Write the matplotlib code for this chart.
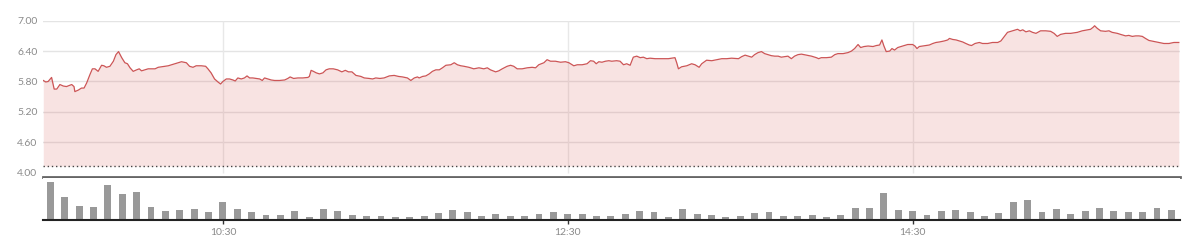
import matplotlib.pyplot as plt
import numpy as np

plt.rcParams["font.family"] = ["Lato", "DejaVu Sans"]

# minutes since 09:30 and last price
price_t = [
    -2.5, -1.6, -0.8, 0.4, 1.3, 2.2, 3.3, 4.5, 5.6, 7.4, 8.2, 8.5, 9.7, 10.8, 11.7, 12.6, 13.7, 14.6, 15.5, 16.6,
    17.8, 18.6, 19.5, 20.7, 21.9, 22.8, 23.7, 24.8, 25.9, 26.8, 27.7, 28.8, 30.0, 30.9, 31.7, 32.9, 34.0, 35.2,
    36.4, 37.5, 38.7, 39.8, 41.0, 42.1, 43.3, 44.5, 45.6,
    47.3, 48.4, 49.6, 50.7, 52.5, 54.0, 54.8, 55.9, 57.1, 58.3, 59.2, 60.0, 61.2, 62.3, 63.5, 64.3, 65.2, 66.4,
    67.5, 68.4, 69.3, 70.4, 71.6, 72.8, 73.7, 74.5, 75.7, 76.8, 78.0, 79.7, 81.5, 82.6, 83.4, 84.6, 86.1, 87.8,
    89.6, 90.1, 90.7, 91.5, 92.5, 93.6, 94.8, 95.9,
    97.0, 98.4, 99.9, 101.4, 102.6, 103.7, 104.9, 106.3, 108.0, 109.2, 110.9, 112.1, 113.2, 114.6, 116.1, 117.9,
    119.6, 121.1, 122.5, 124.2, 125.4, 126.6, 127.7, 128.3, 129.5, 130.6, 131.8, 132.9, 134.1, 135.3, 136.4,
    137.6, 139.3, 140.5, 141.6, 142.8, 143.9, 145.6,
    147.3, 149.1, 150.8, 152.0, 153.1, 154.9, 156.0, 157.2, 158.9, 160.1, 161.2, 162.4, 164.1, 165.9, 167.6,
    168.8, 169.9, 171.7, 172.8, 174.0, 175.7, 177.5, 179.2, 180.4, 182.1, 183.3, 185.0, 186.7, 187.9, 189.0,
    189.9, 190.8, 191.9, 193.1, 194.3, 195.3,
    197.0, 198.2, 199.4, 200.5, 201.7, 202.8, 204.0, 205.2, 206.3, 207.5, 208.6, 210.4, 212.7, 215.0, 217.3,
    217.9, 218.5, 219.6, 221.4, 223.1, 224.3, 225.7, 226.6, 228.3, 230.1, 231.8, 233.6, 235.3, 237.0, 239.4,
    240.5, 241.7, 242.8, 244.0,
    245.0, 246.2, 247.4, 248.5, 249.7, 250.8, 252.0, 253.2, 254.3, 255.5, 256.6, 257.8, 258.9, 260.1, 261.3,
    263.0, 264.8, 266.5, 267.3, 268.2, 270.0, 271.7, 272.9, 274.0, 275.8, 277.5, 278.7, 279.8, 281.0, 281.9,
    283.1, 284.5, 286.2, 287.4, 288.5, 289.3, 290.0, 290.8, 292.0, 292.8, 293.7,
    294.8, 295.9, 297.1, 298.3, 300.0, 300.8, 301.5, 302.3, 303.5, 304.6, 305.8, 307.0, 308.1, 309.3, 311.0,
    312.2, 312.8, 313.9, 315.1, 316.2, 317.4, 318.5, 319.7, 320.5, 321.7, 323.2, 324.3, 326.1, 327.8, 329.6,
    330.7, 331.9, 333.0, 334.2, 335.4, 336.5, 337.4, 338.3, 339.4, 340.6, 341.7, 342.9,
    344.5, 346.3, 348.0, 349.2, 350.3, 351.5, 353.2, 355.0, 357.3, 359.0, 360.8, 361.9, 362.8, 363.3, 364.2,
    365.4, 367.1, 368.3, 369.4, 371.2, 372.3, 374.1, 375.2, 376.4, 377.6, 378.7, 379.9, 381.0, 382.2, 383.9,
    385.7, 387.4, 389.2, 390.9, 392.6,
]
price_v = [
    5.82, 5.79, 5.80, 5.88, 5.65, 5.65, 5.74, 5.71, 5.70, 5.74, 5.70, 5.60, 5.63, 5.67, 5.67, 5.77, 5.93, 6.05, 6.05, 6.00,
    6.12, 6.11, 6.08, 6.10, 6.20, 6.33, 6.39, 6.27, 6.17, 6.15, 6.07, 6.00, 6.03, 6.05, 6.01, 6.03, 6.05, 6.05,
    6.05, 6.08, 6.09, 6.10, 6.11, 6.13, 6.15, 6.17, 6.19,
    6.17, 6.10, 6.08, 6.11, 6.11, 6.10, 6.05, 5.97, 5.85, 5.79, 5.75, 5.80, 5.85, 5.85, 5.83, 5.81, 5.87, 5.85,
    5.87, 5.91, 5.87, 5.87, 5.86, 5.85, 5.82, 5.87, 5.85, 5.83, 5.82, 5.82, 5.83, 5.86, 5.89, 5.86, 5.87, 5.87,
    5.88, 5.90, 6.02, 6.00, 5.97, 5.95, 5.97, 6.03,
    6.05, 6.05, 6.03, 5.99, 6.02, 5.99, 5.99, 5.92, 5.90, 5.87, 5.86, 5.85, 5.87, 5.86, 5.87, 5.91,
    5.92, 5.90, 5.89, 5.87, 5.82, 5.87, 5.89, 5.87, 5.90, 5.91, 5.95, 6.00, 6.03, 6.03, 6.07,
    6.12, 6.13, 6.17, 6.13, 6.11, 6.10, 6.08,
    6.05, 6.07, 6.05, 6.07, 6.03, 5.99, 6.01, 6.05, 6.10, 6.12, 6.10, 6.05, 6.05, 6.07, 6.08,
    6.07, 6.13, 6.17, 6.23, 6.20, 6.20, 6.18, 6.19, 6.17, 6.11, 6.13, 6.13, 6.15, 6.21, 6.20,
    6.15, 6.19, 6.18, 6.20, 6.21, 6.20,
    6.21, 6.20, 6.13, 6.15, 6.12, 6.28, 6.30, 6.27, 6.28, 6.25, 6.26, 6.25, 6.25, 6.25, 6.27,
    6.17, 6.05, 6.09, 6.11, 6.15, 6.13, 6.08, 6.15, 6.22, 6.21, 6.23, 6.25, 6.25, 6.26, 6.25,
    6.29, 6.32, 6.30, 6.28,
    6.33, 6.37, 6.39, 6.35, 6.33, 6.31, 6.30, 6.30, 6.28, 6.29, 6.30, 6.25, 6.30, 6.33, 6.34,
    6.32, 6.30, 6.27, 6.25, 6.27, 6.27, 6.28, 6.33, 6.35, 6.35, 6.37, 6.40, 6.45, 6.53, 6.47,
    6.49, 6.50, 6.49, 6.51, 6.52, 6.62, 6.50, 6.39, 6.40, 6.45, 6.42,
    6.47, 6.49, 6.51, 6.53, 6.53, 6.50, 6.45, 6.49, 6.50, 6.51, 6.52, 6.55, 6.57, 6.58, 6.60,
    6.62, 6.65, 6.63, 6.62, 6.60, 6.58, 6.55, 6.52, 6.51, 6.55, 6.57, 6.55, 6.55, 6.57, 6.57,
    6.60, 6.69, 6.77, 6.79, 6.81, 6.83, 6.80, 6.82, 6.78, 6.80, 6.77, 6.75,
    6.80, 6.80, 6.79, 6.75, 6.69, 6.73, 6.75, 6.75, 6.77, 6.80, 6.82, 6.83, 6.87, 6.90, 6.85,
    6.80, 6.79, 6.80, 6.77, 6.75, 6.73, 6.70, 6.71, 6.69, 6.70, 6.70, 6.69, 6.65, 6.61, 6.59,
    6.57, 6.55, 6.55, 6.57, 6.57,
]

# 5-minute volume bars starting 09:30 (thousands)
volume = [
    383, 233, 140, 130, 347, 263, 277, 130, 85, 102, 107, 75, 185, 107, 75, 48, 48, 85, 28, 112,
    90, 47, 43, 38, 30, 27, 43, 67, 102, 78, 38, 55, 37, 43, 57, 77, 57, 57, 43, 35,
    58, 88, 75, 28, 105, 57, 45, 28, 37, 67, 83, 37, 37, 47, 25, 47, 117, 117, 273, 100,
    93, 45, 88, 103, 83, 42, 67, 185, 198, 83, 110, 60, 93, 120, 85, 77, 75, 118, 103,
]

y_ticks = [4.00, 4.60, 5.20, 5.80, 6.40, 7.00]
x_tick_labels = ["10:30", "12:30", "14:30"]
base_price = 4.13


def minutes(hhmm):
    h, m = hhmm.split(":")
    return int(h) * 60 + int(m) - (9 * 60 + 30)


x_ticks = [minutes(s) for s in x_tick_labels]
vol_t = np.arange(len(volume)) * 5

fig = plt.figure(figsize=(12, 2.46), dpi=100)
ax = fig.add_axes([0.0358, 0.2805, 0.9475, 0.6354])
axv = fig.add_axes([0.0358, 0.1057, 0.9475, 0.1707])

xlim = (-2.6, 393)

# price panel
for yt in y_ticks[1:]:
    ax.axhline(yt, color="#e4e4e4", lw=1, zorder=0)
ax.vlines(x_ticks, 4.0, 7.0, color="#e8e8e8", lw=1, zorder=0)
ax.fill_between(price_t, price_v, base_price, color="#d9534f", alpha=0.16, lw=0, zorder=1)
ax.plot(price_t, price_v, color="#cc5556", lw=0.9, zorder=3)
ax.axhline(base_price, color="#444444", lw=1, ls=(0, (1, 2)), zorder=2)
ax.set_xlim(*xlim)
ax.set_ylim(3.915, 7.0)
ax.set_yticks(y_ticks)
ax.set_yticklabels([f"{v:.2f}" for v in y_ticks])
ax.set_xticks([])
ax.tick_params(axis="y", length=0, pad=4, labelsize=7.5, labelcolor="#8a8a8a")
for side in ["top", "right", "left"]:
    ax.spines[side].set_visible(False)
ax.spines["bottom"].set_color("#666666")
ax.spines["bottom"].set_linewidth(2)

# volume panel
axv.bar(vol_t, volume, width=2.4, color="#999999", lw=0)
axv.set_xlim(*xlim)
axv.set_ylim(0, 420)
axv.set_yticks([])
axv.set_xticks(x_ticks)
axv.set_xticklabels(x_tick_labels)
axv.tick_params(axis="x", length=3, width=1, color="#333333", pad=3, labelsize=7.5, labelcolor="#8a8a8a")
for side in ["top", "right", "left"]:
    axv.spines[side].set_visible(False)
axv.spines["bottom"].set_color("#222222")
axv.spines["bottom"].set_linewidth(1.5)

fig.savefig("out.png", dpi=100)
